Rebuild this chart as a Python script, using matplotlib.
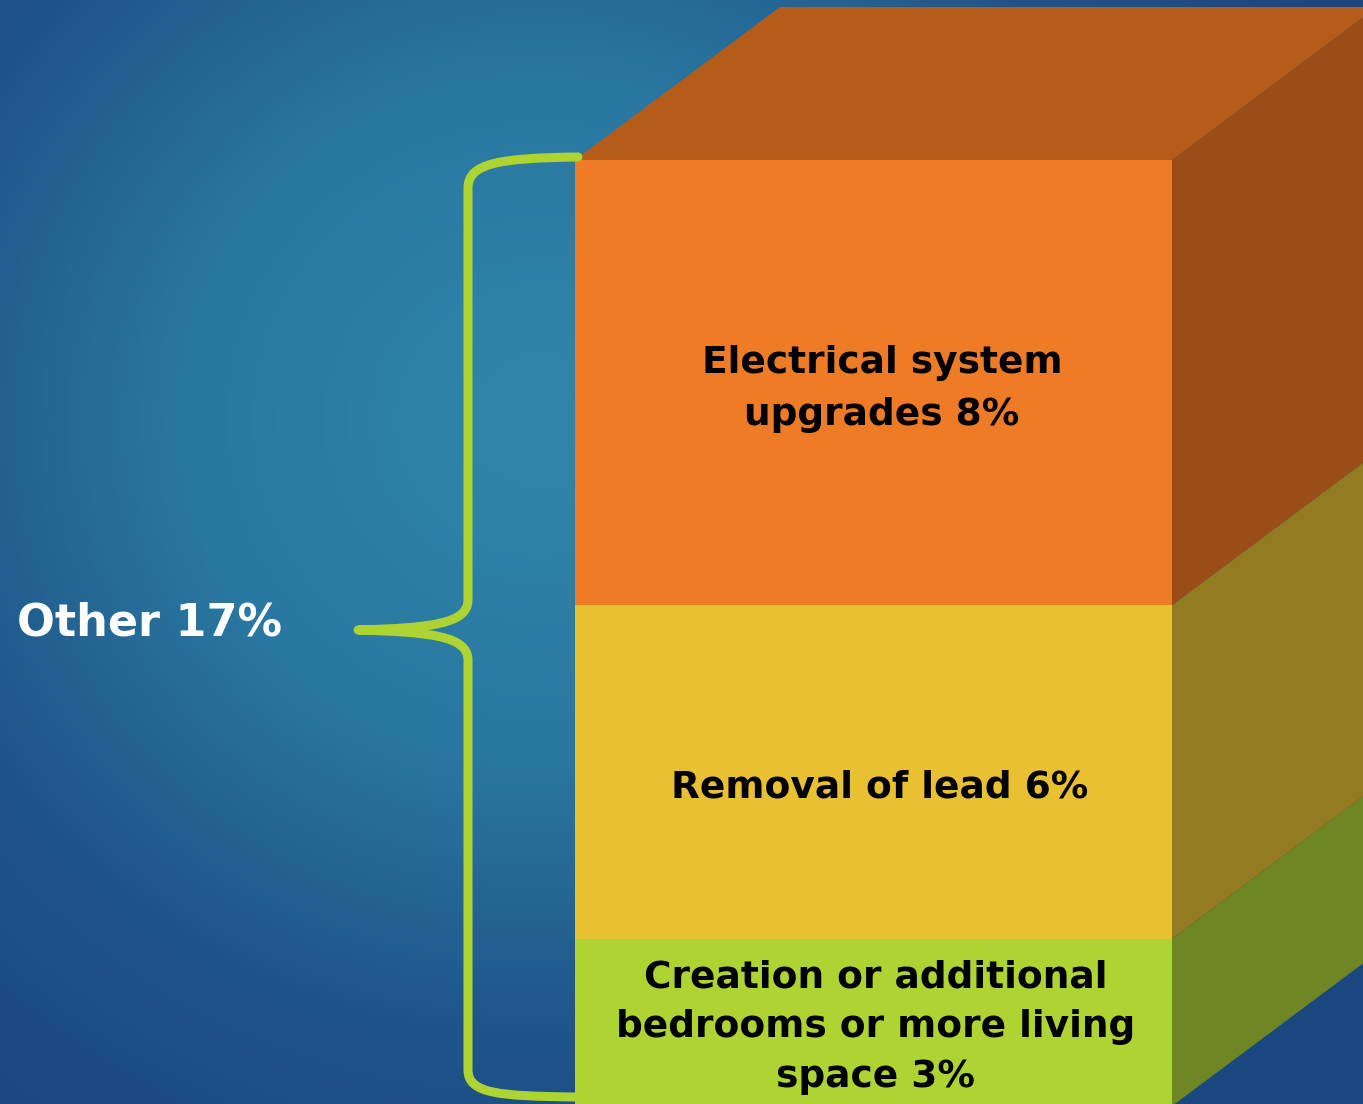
import numpy as np
import matplotlib.pyplot as plt
from matplotlib.path import Path
from matplotlib.patches import PathPatch, Polygon
from matplotlib.colors import LinearSegmentedColormap

# stacked segments, bottom to top
labels = ['Creation or additional\nbedrooms or more living\nspace 3%',
          'Removal of lead 6%',
          'Electrical system\nupgrades 8%']
values = [3, 6, 8]
front_colors = ['#ADD432', '#E8C031', '#EE7B25']
side_colors = ['#6E8722', '#937B22', '#9A4D17']
top_color = '#B55C1B'
total_label = 'Other 17%'

W, H = 1363, 1104
fig = plt.figure(figsize=(W / 100, H / 100), dpi=100)
ax = fig.add_axes([0, 0, 1, 1])

# pixel geometry of the box -> data coords (x: bar units, y: percent)
x0_px, x1_px = 575, 1172
y0_px = 1106
total = sum(values)
y_top_px = 160
sx = x1_px - x0_px
sy = (y0_px - y_top_px) / total


def px(x, y):
    return (x - x0_px) / sx, (y0_px - y) / sy


xl = px(0, 0)[0], px(W, 0)[0]
yl = px(0, H)[1], px(0, 0)[1]
ax.set_xlim(*xl)
ax.set_ylim(*yl)
ax.axis('off')

# background radial gradient
gx, gy = np.meshgrid(np.linspace(0, W, 400), np.linspace(0, H, 330))
r = np.sqrt((gx - 540) ** 2 + ((gy - 420) * 1.05) ** 2) / 900
r = np.clip(r, 0, 1)
cmap = LinearSegmentedColormap.from_list(
    'bg', [(0, '#2F86AA'), (0.4, '#2A77A1'), (0.72, '#1F548A'), (1, '#1B4780')])
ax.imshow(r, extent=[xl[0], xl[1], yl[0], yl[1]], origin='upper', cmap=cmap,
          aspect='auto', zorder=0, vmin=0, vmax=1)

# depth offset
ddx = 205 / sx
ddy = 153 / sy

bottoms = np.concatenate([[0], np.cumsum(values)[:-1]])
ax.bar(0.5, values, width=1.0, bottom=bottoms, color=front_colors, zorder=3, linewidth=0)

for b, v, c in zip(bottoms, values, side_colors):
    ax.add_patch(Polygon([(1, b), (1 + ddx, b + ddy), (1 + ddx, b + v + ddy), (1, b + v)],
                         closed=True, facecolor=c, edgecolor='none', zorder=2))
ax.add_patch(Polygon([(0, total), (ddx, total + ddy), (1 + ddx, total + ddy), (1, total)],
                     closed=True, facecolor=top_color, edgecolor='none', zorder=2))

# labels
label_pos = [(876, 1027), (880, 788), (882, 389)]
spacing = [1.5, 1.4, 1.6]
for (lx, ly), lab, ls in zip(label_pos, labels, spacing):
    ax.text(*px(lx, ly), lab, ha='center', va='center', fontsize=27, fontweight='bold',
            family='DejaVu Sans', color='black', linespacing=ls, zorder=4)

# brace
pts = [(578, 157), (500, 158), (468, 163), (468, 188),
       (468, 600),
       (468, 624), (430, 628), (358, 630),
       (430, 632), (468, 636), (468, 660),
       (468, 1070),
       (468, 1094), (500, 1096), (575, 1097)]
codes = [Path.MOVETO, Path.CURVE4, Path.CURVE4, Path.CURVE4,
         Path.LINETO,
         Path.CURVE4, Path.CURVE4, Path.CURVE4,
         Path.CURVE4, Path.CURVE4, Path.CURVE4,
         Path.LINETO,
         Path.CURVE4, Path.CURVE4, Path.CURVE4]
brace = Path([px(x, y) for x, y in pts], codes)
ax.add_patch(PathPatch(brace, facecolor='none', edgecolor='#ADD432', lw=6.5,
                       capstyle='round', joinstyle='round', zorder=5))

ax.text(*px(17, 623), total_label, ha='left', va='center', fontsize=32, fontweight='bold',
        family='DejaVu Sans', color='white', zorder=4)

fig.savefig('out.png', dpi=100)
